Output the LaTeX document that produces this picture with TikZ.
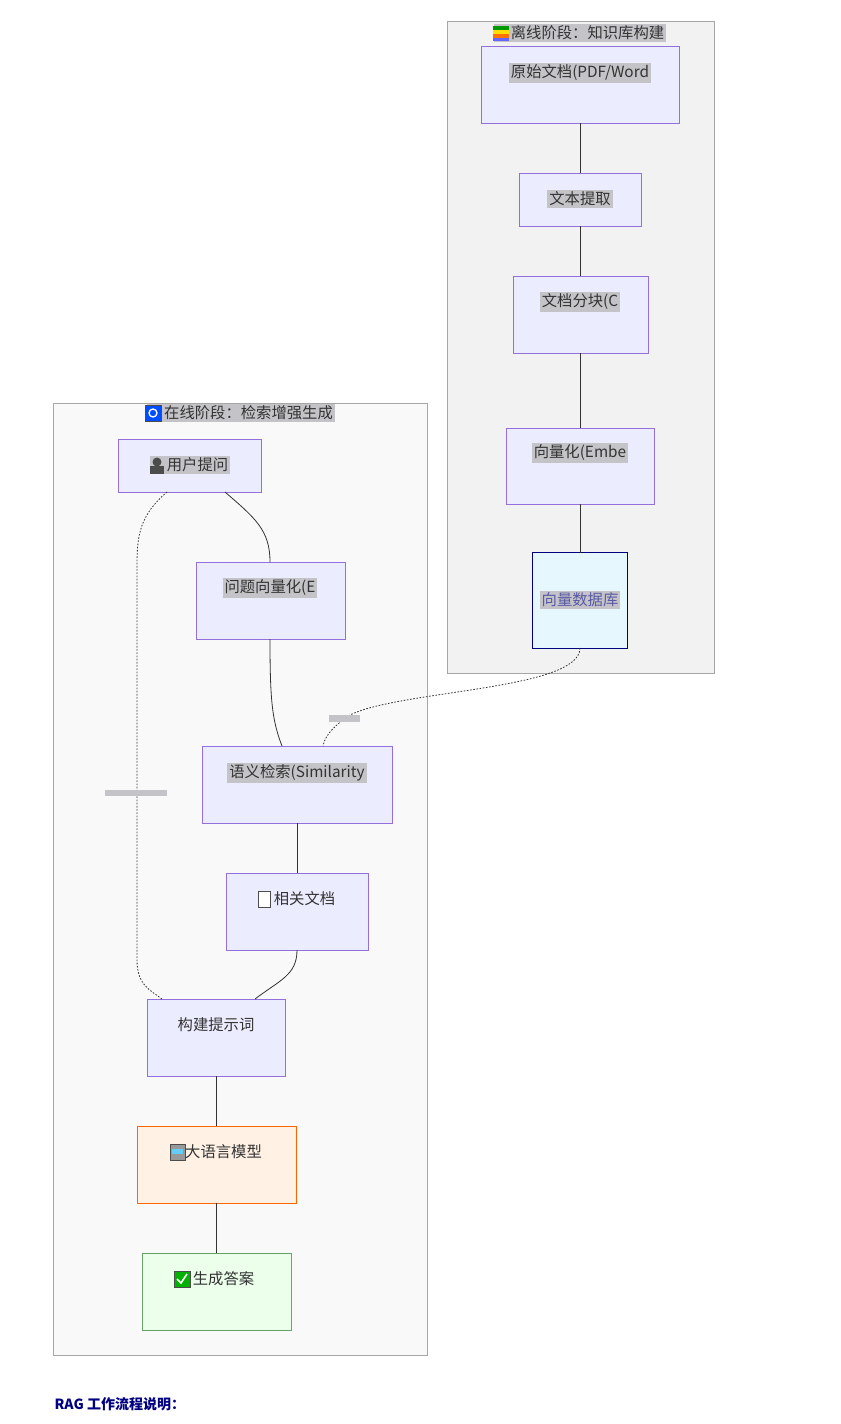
\documentclass[tikz,border=0pt]{standalone}
\usepackage{fontspec}
\setmainfont{Noto Sans CJK SC}
\usetikzlibrary{shapes.geometric}
\definecolor{nodefill}{HTML}{ECECFF}
\definecolor{nodeline}{HTML}{9370DB}
\definecolor{lblbg}{HTML}{C4C4C8}
\definecolor{txt}{HTML}{333333}
\begin{document}
\begin{tikzpicture}[x=0.75pt,y=-0.75pt,
  box/.style={draw=nodeline,fill=nodefill,line width=0.6pt},
  lbl/.style={fill=lblbg,text=txt,font=\fontsize{11.5}{13}\selectfont,inner sep=1.5pt,anchor=center},
  edge/.style={draw=txt,line width=0.6pt},
  dedge/.style={draw=txt,line width=0.6pt,dash pattern=on 1.2pt off 1.2pt},
  clus/.style={draw=black!35,line width=0.7pt}]
\useasboundingbox (0,0) rectangle (840,1424);
% clusters
\draw[clus,fill=black!5] (447,21) rectangle (714,673);
\draw[clus,fill=black!2.5] (53,403) rectangle (427,1355);
\node[lbl] (t1) at (580,33) {\phantom{M}\,离线阶段：知识库构建};
\fill[green!60!black] (493,26) rectangle (509,30);
\fill[yellow!80!orange] (493,30) rectangle (509,34);
\fill[orange!90!red] (493,34) rectangle (509,38);
\fill[blue!60] (493,38) rectangle (509,41);
\node[lbl] (t2) at (241,413) {\phantom{M}\,在线阶段：检索增强生成};
\draw[fill=blue!70!cyan,draw=black!70] (145,405) rectangle (161,421);
\draw[white,line width=1pt] (153,413) circle (4);
% offline nodes
\draw[box] (481,46) rectangle (679,123); \node[lbl] (a) at (580,73) {原始文档(PDF/Word};
\draw[box] (519,173) rectangle (641,226); \node[lbl] (b) at (580,199) {文本提取};
\draw[box] (513,276) rectangle (648,353); \node[lbl] (c) at (580,302) {文档分块(C};
\draw[box] (506,428) rectangle (654,504); \node[lbl] (d) at (580,453) {向量化(Embe};
\node[cylinder,shape border rotate=90,draw=blue!50!black,fill=cyan!10,line width=0.6pt,minimum width=95*0.75pt,minimum height=96*0.75pt,aspect=0.25,inner sep=0pt] (db) at (580,600.5) {};
\node[lbl,text=blue!30!gray] (dbt) at (580,600) {向量数据库};
% offline edges
\draw[edge] (580,123) -- (580,173);
\draw[edge] (580,226) -- (580,276);
\draw[edge] (580,353) -- (580,428);
\draw[edge] (580,504) -- (580,553);
% online nodes
\draw[box] (118,439) rectangle (261,492); \node[lbl] (q) at (190,465) {\phantom{M}\,用户提问};
\fill[black!70] (157,462) circle (4.5); \fill[black!70] (150,474) rectangle (164,466);
\draw[box] (196,562) rectangle (345,639); \node[lbl] (qv) at (270,588) {问题向量化(E};
\draw[box] (202,746) rectangle (392,823); \node[lbl] (s) at (297,773) {语义检索(Similarity};
\draw[box] (226,873) rectangle (368,950); \node[text=txt,font=\fontsize{11.5}{13}\selectfont] (r) at (297,899) {\phantom{M}\,相关文档};
\draw[black!70,fill=white] (258,891) rectangle (270,907);
\draw[box] (147,999) rectangle (285,1076); \node[text=txt,font=\fontsize{11.5}{13}\selectfont] (p) at (216,1025) {构建提示词};
\draw[draw=orange!80!red,fill=orange!10,line width=0.6pt] (137,1126) rectangle (296,1203);
\node[text=txt,font=\fontsize{11.5}{13}\selectfont] (llm) at (216,1152) {\phantom{M}\,大语言模型};
\draw[fill=black!40,draw=black!70] (170,1144) rectangle (185,1160);
\fill[cyan!60] (172,1149) rectangle (183,1154);
\draw[draw=green!40!black!60,fill=green!8,line width=0.6pt] (142,1253) rectangle (291,1330);
\node[text=txt,font=\fontsize{11.5}{13}\selectfont] (ans) at (216,1279) {\phantom{M}\,生成答案};
\draw[fill=green!70!black,draw=black!70] (174,1271) rectangle (190,1287);
\draw[white,line width=1.2pt] (177,1279) -- (181,1283) -- (187,1274);
% online edges
\draw[edge] (225,492) .. controls (255,518) and (270,530) .. (270,562);
\draw[edge] (270,639) .. controls (270,700) and (272,720) .. (282,746);
\draw[edge] (297,823) -- (297,873);
\draw[edge] (297,950) .. controls (297,975) and (280,980) .. (255,999);
\draw[edge] (216,1076) -- (216,1126);
\draw[edge] (216,1203) -- (216,1253);
\draw[dedge] (167,492) .. controls (140,515) and (137,535) .. (137,565) -- (137,960) .. controls (137,985) and (150,990) .. (162,999);
\draw[dedge] (580,648) .. controls (580,690) and (400,690) .. (350,715) .. controls (335,725) and (325,735) .. (323,746);
\fill[lblbg] (329,715) rectangle (360,722);
\fill[lblbg] (105,790) rectangle (167,796);
\node[anchor=west,text=blue!50!black,font=\fontsize{10.5}{12}\selectfont\bfseries] (foot) at (50,1404) {RAG 工作流程说明：};
\end{tikzpicture}
\end{document}
